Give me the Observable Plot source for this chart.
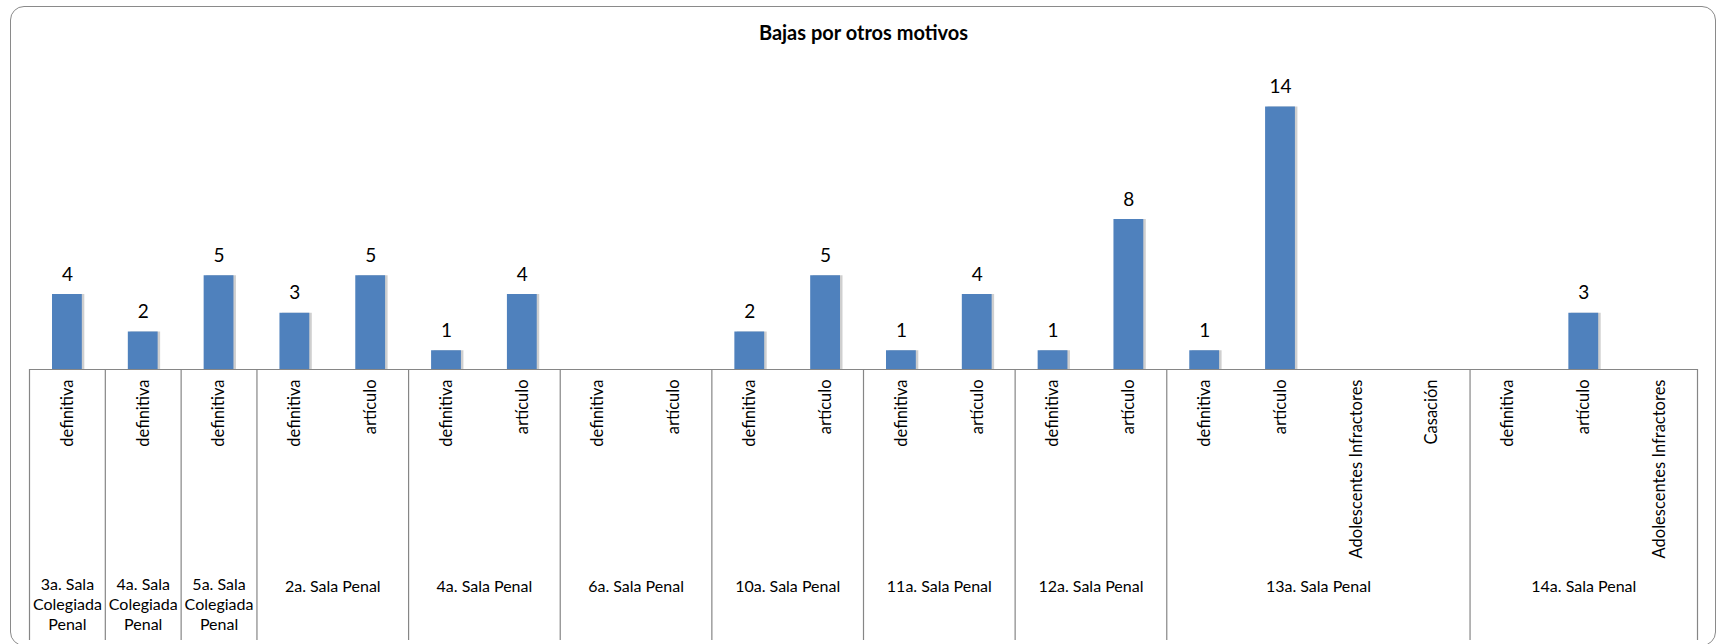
<!DOCTYPE html>
<html>
<head>
<meta charset="utf-8">
<script src="https://cdn.jsdelivr.net/npm/d3@7"></script>
<script src="https://cdn.jsdelivr.net/npm/@observablehq/plot@0.6"></script>
<style>
  html, body { margin: 0; padding: 0; background: #fff; }
  #wrap { position: relative; width: 1719px; height: 644px; overflow: hidden; }
  #border { position: absolute; left: 10px; top: 6px; width: 1706px; height: 640px;
            border: 1.5px solid #8a8a8a; border-radius: 14px; box-sizing: border-box; pointer-events: none; }
  #wrap svg { position: absolute; left: 0; top: 0; }
</style>
</head>
<body>
<div id="wrap"><div id="border"></div></div>
<script>
const title = "Bajas por otros motivos";

const groups = [
  "3a. Sala Colegiada Penal",
  "4a. Sala Colegiada Penal",
  "5a. Sala Colegiada Penal",
  "2a. Sala Penal",
  "4a. Sala Penal",
  "6a. Sala Penal",
  "10a. Sala Penal",
  "11a. Sala Penal",
  "12a. Sala Penal",
  "13a. Sala Penal",
  "14a. Sala Penal"
];

const groupCategories = [
  ["definitiva"],
  ["definitiva"],
  ["definitiva"],
  ["definitiva", "artículo"],
  ["definitiva", "artículo"],
  ["definitiva", "artículo"],
  ["definitiva", "artículo"],
  ["definitiva", "artículo"],
  ["definitiva", "artículo"],
  ["definitiva", "artículo", "Adolescentes Infractores", "Casación"],
  ["definitiva", "artículo", "Adolescentes Infractores"]
];

const groupValues = [
  [4],
  [2],
  [5],
  [3, 5],
  [1, 4],
  [null, null],
  [2, 5],
  [1, 4],
  [1, 8],
  [1, 14, null, null],
  [null, 3, null]
];

// Build flat table for the library
const rows = [];
const groupRows = [];
let idx = 0;
groups.forEach((g, gi) => {
  const start = idx;
  groupCategories[gi].forEach((c, ci) => {
    rows.push({group: g, category: c, value: groupValues[gi][ci], i: idx});
    idx++;
  });
  groupRows.push({group: g, start, end: idx, n: idx - start});
});
const total = idx;
const edges = [0, ...groupRows.map(d => d.end)];
const withValue = rows.filter(d => d.value != null);

const chart = Plot.plot({
  width: 1719,
  height: 644,
  marginLeft: 29,
  marginRight: 22,
  marginTop: 0,
  marginBottom: 0,
  x: {type: "linear", domain: [0, total], axis: null},
  y: {domain: [0, 16], range: [369, 69], axis: null},
  style: {fontFamily: "Lato, 'Open Sans', sans-serif", background: "transparent", color: "#000"},
  marks: [
    // bar shadow
    Plot.rectY(withValue, {x1: "i", x2: d => d.i + 1, y: "value", insetLeft: 23, insetRight: 23, dx: 2.5, fill: "#cfcfcf"}),
    // bars
    Plot.rectY(withValue, {x1: "i", x2: d => d.i + 1, y: "value", insetLeft: 23, insetRight: 23, fill: "#4F81BD"}),
    // axis line
    Plot.ruleY([0], {stroke: "#868686", strokeWidth: 1.2}),
    // group dividers
    Plot.ruleX(edges, {stroke: "#868686", strokeWidth: 1.2, insetTop: 369, insetBottom: 4}),
    // value labels
    Plot.text(withValue, {x: d => d.i + 0.5, y: "value", text: d => String(d.value), dy: -20, fontSize: 19}),
    // category labels (rotated)
    Plot.text(rows, {x: d => d.i + 0.5, y: 0, text: "category", rotate: -90, textAnchor: "end", dy: 10, fontSize: 16.5}),
    // group labels: narrow groups (wrapped)
    Plot.text(groupRows.filter(d => d.n === 1), {x: d => (d.start + d.end) / 2, y: 0, text: "group", lineWidth: 6, lineHeight: 1.26, dy: 234, fontSize: 16}),
    // group labels: wide groups
    Plot.text(groupRows.filter(d => d.n > 1), {x: d => (d.start + d.end) / 2, y: 0, text: "group", dy: 217, fontSize: 16}),
    // title
    Plot.text([title], {frameAnchor: "top", lineAnchor: "middle", dy: 33, fontWeight: "bold", fontSize: 20})
  ]
});

document.getElementById("wrap").prepend(chart);
</script>
</body>
</html>
